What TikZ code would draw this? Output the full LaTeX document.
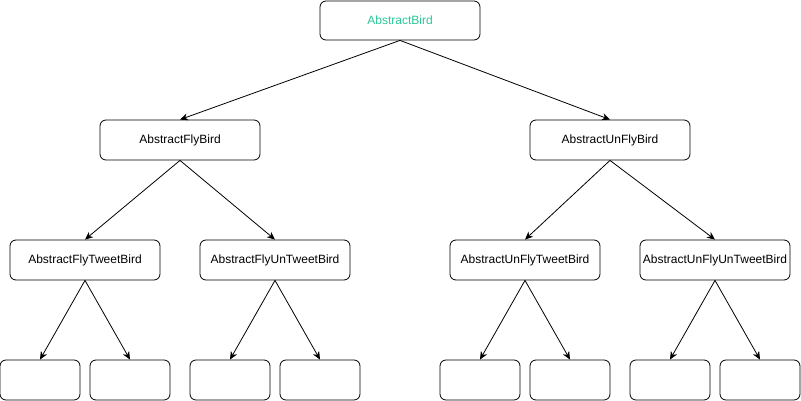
\documentclass[tikz,border=0pt]{standalone}
\usepackage{fontspec}
\setmainfont{Liberation Sans}
\usetikzlibrary{arrows.meta}
\definecolor{birdgreen}{HTML}{2CC79A}
\begin{document}
\begin{tikzpicture}[x=1pt,y=-1pt,
  box/.style={draw=black, line width=0.8pt, rounded corners=6pt, fill=white, inner sep=0pt,
    font=\fontsize{12}{14}\selectfont},
  conn/.style={draw=black, line width=0.8pt, -{Stealth[length=8pt,width=7pt,inset=2.5pt]}}]
\useasboundingbox (0,0) rectangle (801,401);
% top
\node[box, minimum width=160pt, minimum height=39pt, text=birdgreen] (root) at (400,20.5) {AbstractBird};
\node[box, minimum width=160pt, minimum height=40pt] (fly) at (180,140) {AbstractFlyBird};
\node[box, minimum width=160pt, minimum height=40pt] (unfly) at (610,140) {AbstractUnFlyBird};
\node[box, minimum width=150pt, minimum height=40pt] (ft) at (85,260) {AbstractFlyTweetBird};
\node[box, minimum width=150pt, minimum height=40pt] (fut) at (275,260) {AbstractFlyUnTweetBird};
\node[box, minimum width=150pt, minimum height=40pt] (uft) at (525,260) {AbstractUnFlyTweetBird};
\node[box, minimum width=150pt, minimum height=40pt] (ufut) at (715,260) {AbstractUnFlyUnTweetBird};
% leaves
\node[box, minimum width=80pt, minimum height=40pt] (l1) at (40,380) {};
\node[box, minimum width=80pt, minimum height=40pt] (l2) at (130,380) {};
\node[box, minimum width=80pt, minimum height=40pt] (l3) at (230,380) {};
\node[box, minimum width=80pt, minimum height=40pt] (l4) at (320,380) {};
\node[box, minimum width=80pt, minimum height=40pt] (l5) at (480,380) {};
\node[box, minimum width=80pt, minimum height=40pt] (l6) at (570,380) {};
\node[box, minimum width=80pt, minimum height=40pt] (l7) at (670,380) {};
\node[box, minimum width=80pt, minimum height=40pt] (l8) at (760,380) {};
% connectors
\draw[conn] (root.south) -- (fly.north);
\draw[conn] (root.south) -- (unfly.north);
\draw[conn] (fly.south) -- (ft.north);
\draw[conn] (fly.south) -- (fut.north);
\draw[conn] (unfly.south) -- (uft.north);
\draw[conn] (unfly.south) -- (ufut.north);
\draw[conn] (ft.south) -- (l1.north);
\draw[conn] (ft.south) -- (l2.north);
\draw[conn] (fut.south) -- (l3.north);
\draw[conn] (fut.south) -- (l4.north);
\draw[conn] (uft.south) -- (l5.north);
\draw[conn] (uft.south) -- (l6.north);
\draw[conn] (ufut.south) -- (l7.north);
\draw[conn] (ufut.south) -- (l8.north);
\end{tikzpicture}
\end{document}
